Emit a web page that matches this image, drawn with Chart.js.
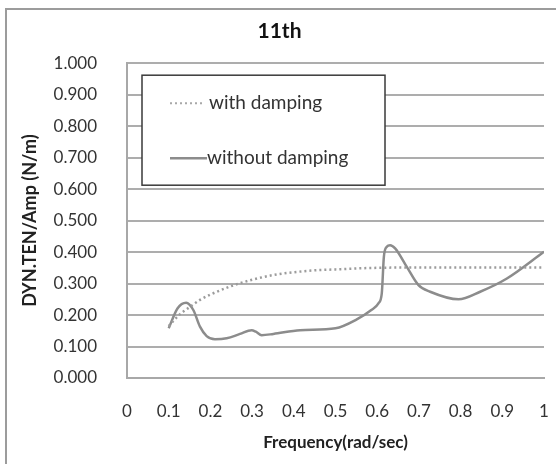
<!DOCTYPE html>
<html>
<head>
<meta charset="utf-8">
<script src="https://cdn.jsdelivr.net/npm/chart.js@4"></script>
<style>
  html, body { margin: 0; padding: 0; background: #fff; }
  #wrap { position: relative; width: 556px; height: 464px; overflow: hidden; }
  #frame { position: absolute; left: 5px; top: 8px; width: 600px; height: 500px; border: 2px solid #9c9c9c; box-sizing: border-box; }
  canvas { position: absolute; left: 0; top: 0; }
</style>
</head>
<body>
<div id="wrap">
  <div id="frame"></div>
  <canvas id="chart" width="556" height="464"></canvas>
</div>
<script>
// with damping (dotted)
var freqDamped = [0.1, 0.125, 0.15, 0.175, 0.2, 0.25, 0.3, 0.35, 0.4, 0.45, 0.5, 0.55, 0.6, 0.7, 0.8, 0.9, 1.0];
var tenDamped  = [0.165, 0.2, 0.225, 0.248, 0.265, 0.292, 0.312, 0.327, 0.336, 0.342, 0.345, 0.348, 0.35, 0.351, 0.351, 0.351, 0.351];

// without damping (solid)
var freqUndamped = [0.1, 0.121, 0.142, 0.159, 0.175, 0.191, 0.211, 0.239, 0.271, 0.299, 0.309, 0.323, 0.351, 0.415, 0.5,
                    0.551, 0.585, 0.603, 0.611, 0.616, 0.623, 0.631, 0.643, 0.671, 0.699, 0.727, 0.795, 0.847, 0.911, 1.0];
var tenUndamped  = [0.158, 0.221, 0.239, 0.216, 0.163, 0.133, 0.123, 0.126, 0.140, 0.152, 0.147, 0.136, 0.140, 0.152, 0.158,
                    0.186, 0.215, 0.237, 0.269, 0.385, 0.417, 0.422, 0.412, 0.353, 0.295, 0.274, 0.250, 0.274, 0.316, 0.401];

var xTickLabels = ["0", "0.1", "0.2", "0.3", "0.4", "0.5", "0.6", "0.7", "0.8", "0.9", "1"];
var yTickLabels = ["0.000", "0.100", "0.200", "0.300", "0.400", "0.500", "0.600", "0.700", "0.800", "0.900", "1.000"];

var seriesNames = ["with damping", "without damping"];

var lineGray = "#8c8c8c";
var FONT = "Lato, 'Open Sans', sans-serif";

function toPoints(xs, ys) {
    return xs.map(function (x, i) { return { x: x, y: ys[i] }; });
}

// legend box drawn inside the plot, like the excel one
var boxLegend = {
    id: "boxLegend",
    afterDraw: function (chart) {
        var c = chart.ctx;
        var a = chart.chartArea;
        var bx = a.left + 15, by = a.top + 12, bw = 243, bh = 110;
        c.save();
        c.fillStyle = "#fff";
        c.fillRect(bx, by, bw, bh);
        c.strokeStyle = "#3a3a3a";
        c.lineWidth = 1.5;
        c.strokeRect(bx, by, bw, bh);

        var rows = [
            { y: by + 28, dash: [2, 3], x2: bx + 60, tx: bx + 67 },
            { y: by + 83, dash: [], x2: bx + 65, tx: bx + 65 }
        ];
        c.font = "19px " + FONT;
        c.textBaseline = "middle";
        rows.forEach(function (r, i) {
            c.beginPath();
            c.setLineDash(r.dash);
            c.strokeStyle = i === 0 ? "#a8a8a8" : lineGray;
            c.lineWidth = i === 0 ? 2 : 2.5;
            c.moveTo(bx + 28, r.y);
            c.lineTo(r.x2, r.y);
            c.stroke();
            c.fillStyle = "#333";
            c.fillText(seriesNames[i], r.tx, r.y);
        });
        c.restore();
    }
};

var ctx = document.getElementById("chart").getContext("2d");

var chart = new Chart(ctx, {
    type: "line",
    data: {
        datasets: [
            {
                label: seriesNames[0],
                data: toPoints(freqDamped, tenDamped),
                borderColor: "#9c9c9c",
                borderWidth: 2.5,
                borderDash: [2, 3],
                pointRadius: 0,
                fill: false,
                cubicInterpolationMode: "monotone",
            },
            {
                label: seriesNames[1],
                data: toPoints(freqUndamped, tenUndamped),
                borderColor: lineGray,
                borderWidth: 2.5,
                pointRadius: 0,
                fill: false,
                cubicInterpolationMode: "monotone",
            },
        ],
    },
    options: {
        responsive: false,
        animation: false,
        layout: { padding: { left: 15, right: 12, bottom: 7, top: 0 } },
        plugins: {
            legend: { display: false },
            tooltip: { enabled: false },
            title: {
                display: true,
                text: "11th",
                color: "#111",
                font: { family: FONT, size: 21, weight: "bold" },
                padding: { top: 19, bottom: 19 },
            },
        },
        scales: {
            x: {
                type: "linear",
                min: 0,
                max: 1,
                afterFit: function (s) {
                    s.height = 464 - 378 - 7;
                    s.paddingLeft = 0;
                    s.paddingRight = 0;
                },
                ticks: {
                    stepSize: 0.1,
                    autoSkip: false,
                    maxRotation: 0,
                    padding: 23,
                    color: "#333",
                    font: { family: FONT, size: 17 },
                    callback: function (v, i) { return xTickLabels[i]; },
                },
                grid: { display: false, drawTicks: false },
                border: { display: true, color: "#a8a8a8", width: 2 },
                title: {
                    display: true,
                    text: "Frequency(rad/sec)",
                    color: "#222",
                    font: { family: FONT, size: 17, weight: "bold" },
                    padding: { top: 4, bottom: 4 },
                },
            },
            y: {
                min: 0,
                max: 1,
                afterFit: function (s) { s.width = 127 - 15; },
                ticks: {
                    stepSize: 0.1,
                    padding: 30,
                    color: "#333",
                    font: { family: FONT, size: 17 },
                    callback: function (v, i) { return yTickLabels[i]; },
                },
                grid: { color: "#adadad", lineWidth: 2, drawTicks: false },
                border: { display: true, color: "#a8a8a8", width: 2 },
                title: {
                    display: true,
                    text: "DYN.TEN/Amp (N/m)",
                    color: "#222",
                    font: { family: FONT, size: 18, weight: "bold" },
                    padding: { top: 4, bottom: 4 },
                },
            },
        },
    },
    plugins: [boxLegend],
});
</script>
</body>
</html>
